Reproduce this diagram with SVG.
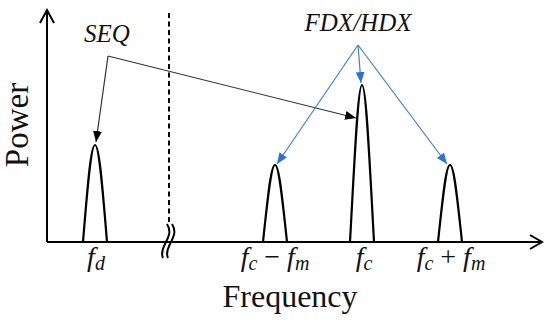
<svg xmlns="http://www.w3.org/2000/svg" width="550" height="323" viewBox="0 0 550 323">
<style>
.ax{fill:none;stroke:#000;stroke-width:2}
.pk{fill:none;stroke:#000;stroke-width:2.2}
.blk{fill:none;stroke:#333;stroke-width:1.2}
.blu{fill:none;stroke:#3f7fd0;stroke-width:1.2}
text{font-family:'Liberation Serif','Times New Roman',Times,serif;fill:#111}
.it{font-style:italic}
</style>
<defs>
<marker id="ab" markerUnits="userSpaceOnUse" markerWidth="12" markerHeight="10" refX="11" refY="4.5" orient="auto"><path d="M0,0 L11,4.5 L0,9 z" fill="#000"/></marker>
<marker id="au" markerUnits="userSpaceOnUse" markerWidth="12" markerHeight="10" refX="11" refY="4.5" orient="auto"><path d="M0,0 L11,4.5 L0,9 z" fill="#2f74cc"/></marker>
</defs>
<g id="axes">
<path class="ax" d="M47,242 L47,10 M40,23 L47,10 L54,23"/>
<path class="ax" d="M47,242 L542,242 M530,235 L542,242 L530,249"/>
<line x1="169" y1="13" x2="169" y2="222" stroke="#000" stroke-width="2" stroke-dasharray="5,3.5"/>
<path class="ax" d="M167,224 C172,232 168,238 165,244 C162,250 161,254 163,258 M172,224 C177,232 173,238 170,244 C167,250 166,254 168,258" stroke-width="1.8"/>
</g>
<g id="peak-fd"><path class="pk" d="M83,242 C88,180 91,145 95,145 C99,145 102,180 107,242"/></g>
<g id="peak-fcm"><path class="pk" d="M263,242 C268,195 271,165 275,165 C279,165 282,195 287,242"/></g>
<g id="peak-fc"><path class="pk" d="M350,242 C355,150 358,85 362,85 C366,85 369,150 374,242"/></g>
<g id="peak-fcp"><path class="pk" d="M438,242 C443,195 446,165 450,165 C454,165 457,195 462,242"/></g>
<g id="connectors">
<path class="blk" d="M108,56 L96,142" marker-end="url(#ab)"/>
<path class="blk" d="M108,56 L356,118" marker-end="url(#ab)"/>
<path class="blu" d="M358,45 L361,83" marker-end="url(#au)"/>
<path class="blu" d="M358,45 L277,164" marker-end="url(#au)"/>
<path class="blu" d="M358,45 L447,164" marker-end="url(#au)"/>
</g>
<g id="labels">
<text class="it" x="107" y="42" font-size="25" text-anchor="middle" font-family="Liberation Serif, serif">SEQ</text>
<text class="it" x="358" y="31" font-size="25" text-anchor="middle" font-family="Liberation Serif, serif">FDX/HDX</text>
<text font-size="33" text-anchor="middle" transform="translate(28,125) rotate(-90)" font-family="Liberation Serif, serif">Power</text>
<text x="290" y="307" font-size="32" text-anchor="middle" font-family="Liberation Serif, serif">Frequency</text>
<text x="96" y="266" font-size="28" text-anchor="middle" font-family="Liberation Serif, serif"><tspan class="it">f</tspan><tspan class="it" font-size="20" dy="4">d</tspan></text>
<text x="275" y="266" font-size="28" text-anchor="middle" font-family="Liberation Serif, serif"><tspan class="it">f</tspan><tspan class="it" font-size="20" dy="4">c</tspan><tspan dy="-4"> − </tspan><tspan class="it">f</tspan><tspan class="it" font-size="20" dy="4">m</tspan></text>
<text x="364" y="266" font-size="28" text-anchor="middle" font-family="Liberation Serif, serif"><tspan class="it">f</tspan><tspan class="it" font-size="20" dy="4">c</tspan></text>
<text x="451" y="266" font-size="28" text-anchor="middle" font-family="Liberation Serif, serif"><tspan class="it">f</tspan><tspan class="it" font-size="20" dy="4">c</tspan><tspan dy="-4"> + </tspan><tspan class="it">f</tspan><tspan class="it" font-size="20" dy="4">m</tspan></text>
</g>
</svg>
